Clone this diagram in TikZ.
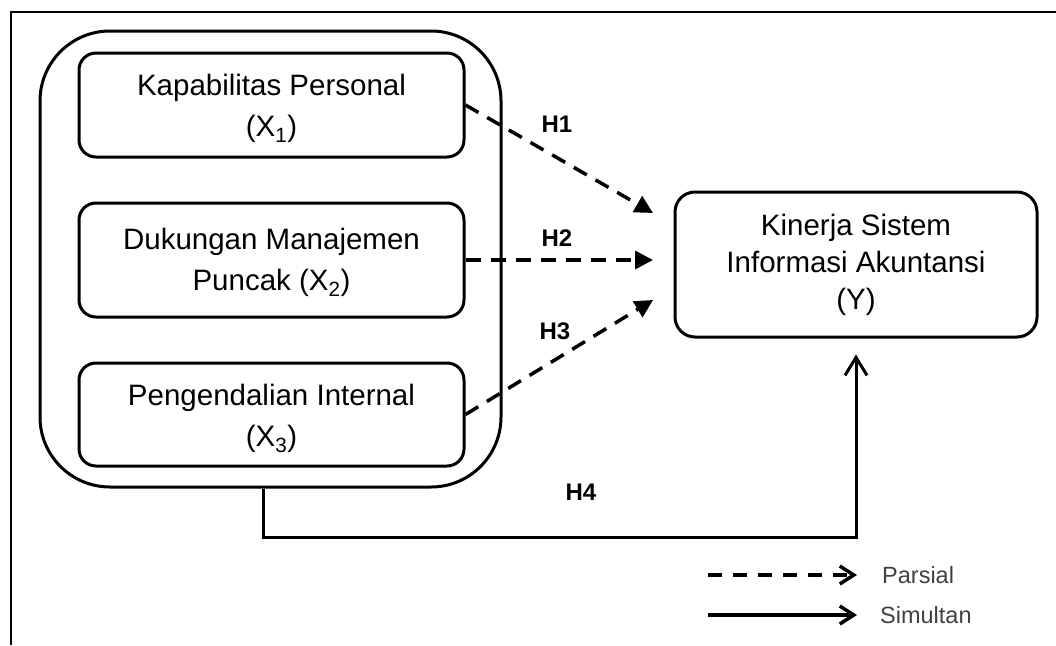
\documentclass[tikz,border=0pt]{standalone}
\usepackage{fontspec}
\setmainfont{Liberation Sans}
\usetikzlibrary{arrows.meta,calc}
\begin{document}
\begin{tikzpicture}[x=1pt,y=-1pt,
  box/.style={draw,line width=3pt,rounded corners=17pt,align=center,inner sep=0pt,font=\fontsize{29.5}{41}\selectfont},
  grpbox/.style={draw,line width=3pt,rounded corners=70pt,inner sep=0pt},
  hyp/.style={font=\bfseries\fontsize{24}{28}\selectfont,inner sep=0pt},
  part/.style={line width=3.5pt,dash pattern=on 15pt off 10pt,-{Triangle[length=18pt,width=18pt]}},
  simu/.style={line width=3pt,-{Straight Barb[length=18pt,width=22pt]}},
  legpart/.style={line width=3.5pt,dash pattern=on 14pt off 11pt,-{Straight Barb[length=14pt,width=18pt]}},
  legsimu/.style={line width=3.5pt,-{Straight Barb[length=14pt,width=18pt]}},
  leg/.style={font=\fontsize{23.5}{28}\selectfont,text=black!75,anchor=west,inner sep=0pt}
]
\useasboundingbox (0,0) rectangle (1056,645);
% outer frame (cropped)
\draw[line width=2pt] (11,645) -- (11,12) -- (1056,12);

% group box
\node[grpbox,minimum width=461pt,minimum height=456pt] (grp) at (270.5,259) {};

% variable boxes
\node[box,minimum width=385pt,minimum height=104pt] (x1) at (271.5,105)
  {\rule{0pt}{29pt}Kapabilitas Personal\\(X\textsubscript{1})};
\node[box,minimum width=385pt,minimum height=114pt] (x2) at (271.5,260)
  {\rule{0pt}{26pt}Dukungan Manajemen\\Puncak (X\textsubscript{2})};
\node[box,minimum width=385pt,minimum height=103pt] (x3) at (271.5,414.5)
  {\rule{0pt}{29pt}Pengendalian Internal\\(X\textsubscript{3})};
\node[box,rounded corners=20pt,minimum width=362pt,minimum height=145pt,font=\fontsize{29.5}{37}\selectfont] (y) at (856,264.5)
  {Kinerja Sistem\\Informasi Akuntansi\\(Y)};

% hypothesis labels
\node[hyp] (h1) at (557,124) {H1};
\node[hyp] (h2) at (557,238) {H2};
\node[hyp] (h3) at (555,331) {H3};
\node[hyp] (h4) at (581,492) {H4};

% partial arrows
\coordinate (t1) at (653,213);
\coordinate (t2) at (653,260);
\coordinate (t3) at (653,300);
\draw[part] (x1.east) -- (t1);
\draw[part] (x2.east) -- (t2);
\draw[part] (x3.east) -- (t3);

% simultaneous arrow
\coordinate (k) at (263,537);
\draw[simu] (grp.south -| k) -- (k) -| ([yshift=-16pt]y.south);

% legend
\coordinate (lpa) at (708,575);
\coordinate (lpb) at (857,575);
\coordinate (lsa) at (708,615);
\coordinate (lsb) at (857,615);
\draw[legpart] (lpa) -- (lpb);
\draw[legsimu] (lsa) -- (lsb);
\node[leg] (lp) at (882,575) {Parsial};
\node[leg] (ls) at (880,615) {Simultan};
\end{tikzpicture}
\end{document}
